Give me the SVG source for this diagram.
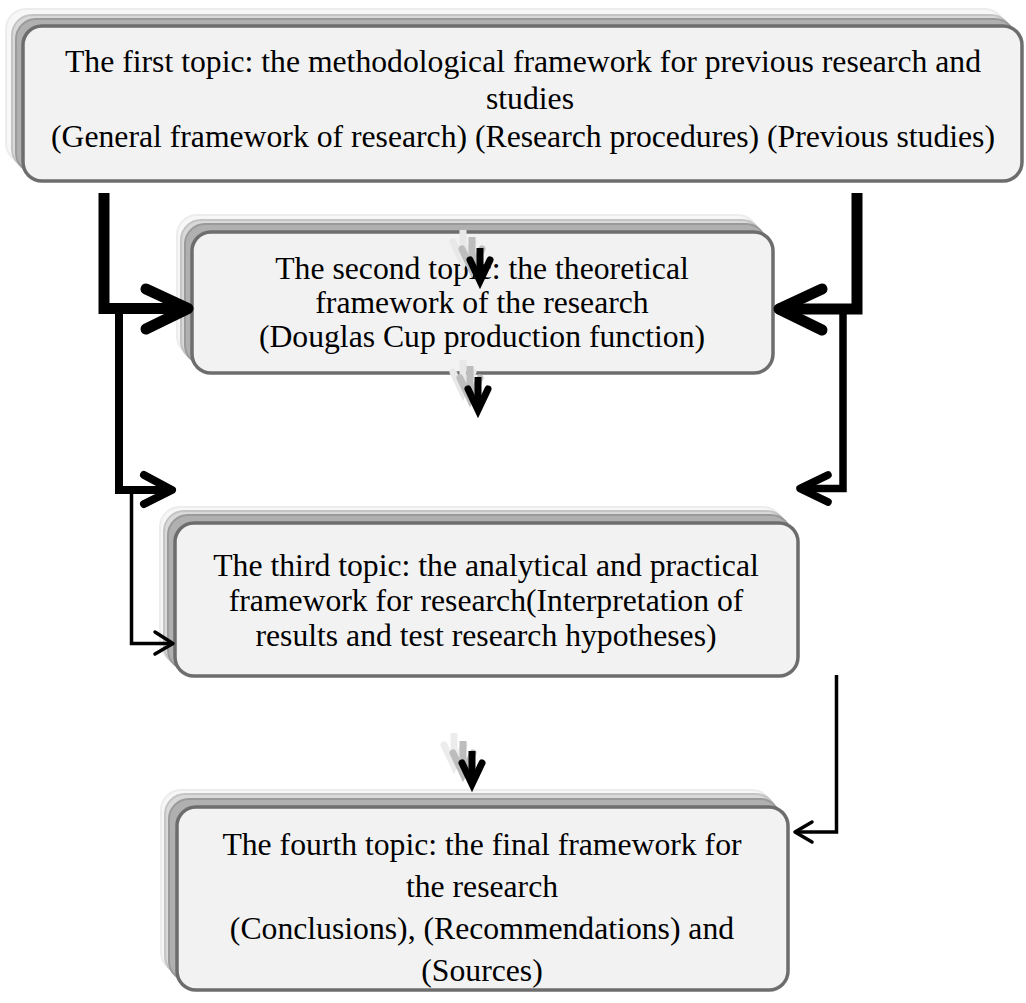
<svg xmlns="http://www.w3.org/2000/svg" xmlns:xlink="http://www.w3.org/1999/xlink" width="1026" height="1003" viewBox="0 0 1026 1003">
<style>
.l0{fill:#f7f7f7;stroke:#ececec;stroke-width:2}
.l1{fill:#d9d9d9;stroke:#c4c4c4;stroke-width:2}
.l2{fill:#b0b0b0;stroke:#9a9a9a;stroke-width:2}
.box{fill:#f2f2f2;stroke:#6d6d6d;stroke-width:3.5}
.t{font-family:"Liberation Serif","Times New Roman",serif;font-size:31.7px;fill:#000;text-anchor:middle}
.c{fill:none;stroke:#000;stroke-linejoin:miter}
.h{fill:none;stroke:#000;stroke-linecap:round;stroke-linejoin:round}
</style>
<defs>
<g id="dn">
<path d="M0,0 V32" stroke-width="7" fill="none"/>
<polyline points="-10,12 0,33 10,12" stroke-width="7" fill="none" stroke-linecap="round" stroke-linejoin="miter"/>
</g>
</defs>
<rect width="1026" height="1003" fill="#fff"/>

<g id="node1">
<rect class="l0" x="6" y="9" width="999" height="154" rx="20"/>
<rect class="l1" x="12" y="15" width="999" height="154" rx="20"/>
<rect class="l2" x="16" y="19" width="999" height="154" rx="20"/>
<rect class="box" x="23" y="26" width="999" height="155" rx="19"/>
<text class="t" x="523" y="72">The first topic: the methodological framework for previous research and</text>
<text class="t" x="530" y="109">studies</text>
<text class="t" x="523" y="147">(General framework of research) (Research procedures) (Previous studies)</text>
</g>

<g id="node2">
<rect class="l0" x="177" y="215" width="581" height="141" rx="20"/>
<rect class="l1" x="181" y="220" width="581" height="141" rx="20"/>
<rect class="l2" x="185" y="224" width="581" height="141" rx="20"/>
<rect class="box" x="192" y="232" width="581" height="141" rx="19"/>
<text class="t" x="482" y="279">The second topic: the theoretical</text>
<text class="t" x="482" y="313">framework of the research</text>
<text class="t" x="482" y="347">(Douglas Cup production function)</text>
</g>

<g id="node3">
<rect class="l0" x="160" y="507" width="623" height="155" rx="20"/>
<rect class="l1" x="164" y="511" width="623" height="155" rx="20"/>
<rect class="l2" x="168" y="515" width="623" height="155" rx="20"/>
<rect class="box" x="175" y="523" width="623" height="153" rx="19"/>
<text class="t" x="486" y="576">The third topic: the analytical and practical</text>
<text class="t" x="486" y="611">framework for research(Interpretation of</text>
<text class="t" x="486" y="646">results and test research hypotheses)</text>
</g>

<g id="node4">
<rect class="l0" x="161" y="790" width="611" height="182" rx="20"/>
<rect class="l1" x="165" y="794" width="611" height="182" rx="20"/>
<rect class="l2" x="169" y="799" width="611" height="182" rx="20"/>
<rect class="box" x="177" y="807" width="611" height="183" rx="19"/>
<text class="t" x="482" y="855">The fourth topic: the final framework for</text>
<text class="t" x="482" y="897">the research</text>
<text class="t" x="482" y="939">(Conclusions), (Recommendations) and</text>
<text class="t" x="482" y="981">(Sources)</text>
</g>

<g id="connectors">
<path class="c" d="M104,193 V308.5 H184" stroke-width="11"/>
<polyline class="h" points="146,289 188,308.5 146,329" stroke-width="11"/>
<path class="c" d="M857,193 V309 H778" stroke-width="11"/>
<polyline class="h" points="822,289 779,309 822,330" stroke-width="11"/>
<path class="c" d="M119,313 V490 H170" stroke-width="8"/>
<polyline class="h" points="144,475 172,490 144,504" stroke-width="8"/>
<path class="c" d="M843,313 V488.5 H802" stroke-width="7.5"/>
<polyline class="h" points="828,475 800,488.5 828,502" stroke-width="7.5"/>
<path class="c" d="M131.5,493 V643.5 H171" stroke-width="3.5"/>
<polyline class="h" points="155,632 173,643.5 155,654" stroke-width="3.5"/>
<path class="c" d="M836.5,675 V832 H797" stroke-width="3.5"/>
<polyline class="h" points="812,822 795,832 812,842" stroke-width="3.5"/>
<g stroke="#000">
<use xlink:href="#dn" x="463" y="230" stroke="#e8e8e8"/>
<use xlink:href="#dn" x="472" y="237" stroke="#bdbdbd"/>
<use xlink:href="#dn" x="480" y="248"/>
<use xlink:href="#dn" x="463" y="360" stroke="#e8e8e8"/>
<use xlink:href="#dn" x="470" y="366" stroke="#bdbdbd"/>
<use xlink:href="#dn" x="478" y="377"/>
<use xlink:href="#dn" x="454" y="733" stroke="#ececec"/>
<use xlink:href="#dn" x="463" y="741" stroke="#bdbdbd"/>
<use xlink:href="#dn" x="472" y="751"/>
</g>
</g>
</svg>
